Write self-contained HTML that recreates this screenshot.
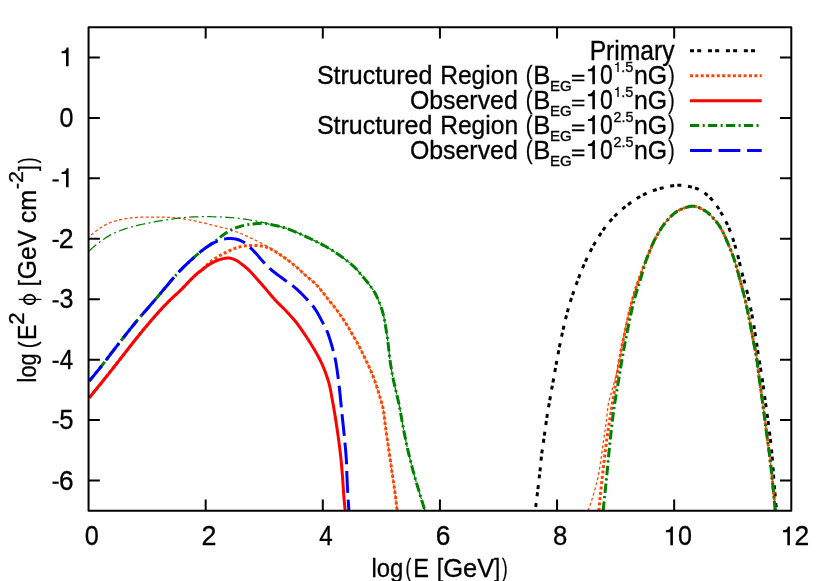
<!DOCTYPE html>
<html><head><meta charset="utf-8"><title>plot</title>
<style>
html,body{margin:0;padding:0;background:#fff;}
svg{display:block;will-change:transform;}
text{font-family:"Liberation Sans",sans-serif;fill:#000;stroke:#000;stroke-width:0.3px;}
</style></head><body>

<svg width="830" height="581" viewBox="0 0 830 581">
<rect x="0" y="0" width="830" height="581" fill="#ffffff"/>
<defs><clipPath id="c"><rect x="88.55" y="27.20" width="702.75" height="483.60"/></clipPath></defs>
<g clip-path="url(#c)">
<path d="M535.20,510.80 L535.46,508.81 L535.72,506.81 L535.97,504.82 L536.22,502.82 L536.47,500.83 L536.72,498.83 L536.97,496.84 L537.21,494.84 L537.45,492.85 L537.69,490.85 L537.93,488.86 L538.17,486.86 L538.40,484.86 L538.63,482.87 L538.86,480.87 L539.09,478.87 L539.32,476.88 L539.54,474.88 L539.77,472.88 L539.99,470.88 L540.20,468.88 L540.41,466.88 L540.61,464.88 L540.80,462.88 L541.00,460.88 L541.19,458.88 L541.40,456.88 L541.62,454.88 L541.85,452.89 L542.11,450.89 L542.38,448.90 L542.67,446.91 L542.97,444.92 L543.27,442.94 L543.56,440.95 L543.85,438.96 L544.13,436.97 L544.40,434.97 L544.68,432.98 L544.95,430.99 L545.23,429.00 L545.50,427.01 L545.78,425.02 L546.06,423.03 L546.35,421.04 L546.64,419.05 L546.94,417.06 L547.24,415.07 L547.56,413.09 L547.88,411.10 L548.21,409.12 L548.54,407.14 L548.89,405.16 L549.23,403.18 L549.58,401.20 L549.94,399.22 L550.29,397.24 L550.65,395.26 L551.00,393.28 L551.35,391.30 L551.70,389.32 L552.05,387.34 L552.40,385.36 L552.75,383.38 L553.10,381.41 L553.45,379.43 L553.81,377.45 L554.16,375.47 L554.52,373.49 L554.88,371.51 L555.24,369.53 L555.60,367.56 L555.96,365.58 L556.31,363.60 L556.67,361.62 L557.03,359.64 L557.40,357.66 L557.76,355.69 L558.13,353.71 L558.50,351.74 L558.88,349.76 L559.27,347.79 L559.66,345.82 L560.06,343.85 L560.46,341.88 L560.87,339.91 L561.29,337.95 L561.71,335.98 L562.13,334.01 L562.56,332.05 L562.99,330.08 L563.43,328.11 L563.88,326.15 L564.33,324.19 L564.79,322.23 L565.26,320.28 L565.74,318.32 L566.22,316.37 L566.72,314.43 L567.23,312.48 L567.75,310.55 L568.28,308.61 L568.83,306.68 L569.39,304.76 L569.98,302.84 L570.58,300.92 L571.19,299.00 L571.82,297.09 L572.46,295.18 L573.11,293.28 L573.77,291.38 L574.44,289.48 L575.11,287.58 L575.79,285.69 L576.48,283.80 L577.17,281.91 L577.86,280.02 L578.56,278.14 L579.28,276.26 L580.00,274.38 L580.74,272.51 L581.49,270.64 L582.26,268.78 L583.04,266.93 L583.84,265.09 L584.65,263.26 L585.48,261.42 L586.32,259.59 L587.17,257.77 L588.04,255.94 L588.92,254.13 L589.82,252.33 L590.74,250.53 L591.67,248.75 L592.62,246.98 L593.59,245.23 L594.59,243.49 L595.60,241.77 L596.63,240.05 L597.69,238.33 L598.76,236.61 L599.86,234.91 L600.97,233.22 L602.11,231.54 L603.27,229.88 L604.45,228.24 L605.65,226.62 L606.88,225.03 L608.12,223.47 L609.39,221.93 L610.68,220.43 L612.02,218.95 L613.39,217.49 L614.80,216.05 L616.24,214.62 L617.72,213.23 L619.21,211.86 L620.73,210.52 L622.27,209.21 L623.82,207.93 L625.38,206.69 L626.96,205.47 L628.56,204.25 L630.18,203.04 L631.83,201.85 L633.49,200.68 L635.18,199.54 L636.88,198.44 L638.61,197.38 L640.35,196.37 L642.11,195.42 L643.88,194.53 L645.67,193.70 L647.50,192.91 L649.35,192.13 L651.24,191.39 L653.14,190.69 L655.06,190.03 L656.99,189.41 L658.93,188.84 L660.87,188.32 L662.81,187.86 L664.76,187.40 L666.74,186.93 L668.72,186.48 L670.71,186.07 L672.70,185.72 L674.70,185.44 L676.69,185.26 L678.67,185.20 L680.67,185.26 L682.70,185.43 L684.73,185.69 L686.77,186.03 L688.79,186.43 L690.79,186.90 L692.74,187.41 L694.65,187.95 L696.49,188.50 L698.28,189.14 L700.05,189.99 L701.80,191.01 L703.51,192.17 L705.17,193.43 L706.79,194.77 L708.34,196.15 L709.81,197.54 L711.21,198.91 L712.54,200.34 L713.83,201.86 L715.07,203.45 L716.27,205.10 L717.43,206.79 L718.55,208.51 L719.63,210.23 L720.67,211.95 L721.69,213.67 L722.68,215.41 L723.65,217.17 L724.60,218.95 L725.52,220.75 L726.42,222.56 L727.28,224.39 L728.12,226.23 L728.93,228.08 L729.70,229.93 L730.43,231.79 L731.14,233.66 L731.82,235.54 L732.47,237.44 L733.10,239.35 L733.72,241.27 L734.31,243.19 L734.89,245.12 L735.46,247.06 L736.01,249.00 L736.56,250.94 L737.09,252.87 L737.62,254.81 L738.12,256.76 L738.60,258.71 L739.07,260.66 L739.53,262.62 L739.99,264.58 L740.45,266.54 L740.92,268.49 L741.39,270.45 L741.87,272.40 L742.38,274.35 L742.89,276.29 L743.42,278.23 L743.96,280.17 L744.51,282.10 L745.05,284.04 L745.59,285.98 L746.12,287.92 L746.63,289.86 L747.13,291.81 L747.60,293.76 L748.06,295.72 L748.49,297.68 L748.92,299.64 L749.34,301.60 L749.75,303.57 L750.15,305.55 L750.54,307.52 L750.92,309.49 L751.30,311.47 L751.67,313.44 L752.04,315.42 L752.40,317.40 L752.75,319.38 L753.10,321.36 L753.44,323.34 L753.77,325.32 L754.10,327.30 L754.43,329.29 L754.75,331.27 L755.07,333.26 L755.38,335.24 L755.69,337.23 L756.00,339.22 L756.30,341.20 L756.60,343.19 L756.89,345.18 L757.18,347.17 L757.47,349.16 L757.77,351.15 L758.08,353.13 L758.39,355.12 L758.70,357.10 L759.03,359.09 L759.35,361.07 L759.67,363.06 L760.00,365.04 L760.33,367.02 L760.65,369.01 L760.97,370.99 L761.29,372.98 L761.60,374.96 L761.91,376.95 L762.21,378.94 L762.50,380.93 L762.78,382.92 L763.07,384.91 L763.35,386.90 L763.62,388.89 L763.89,390.88 L764.16,392.87 L764.43,394.86 L764.70,396.86 L764.97,398.85 L765.24,400.84 L765.52,402.83 L765.79,404.82 L766.07,406.82 L766.35,408.81 L766.63,410.80 L766.91,412.79 L767.19,414.78 L767.46,416.77 L767.73,418.76 L767.99,420.75 L768.25,422.75 L768.52,424.74 L768.78,426.74 L769.04,428.73 L769.30,430.72 L769.55,432.72 L769.80,434.71 L770.05,436.71 L770.29,438.70 L770.53,440.70 L770.76,442.70 L770.98,444.70 L771.19,446.69 L771.39,448.69 L771.58,450.69 L771.77,452.69 L771.94,454.70 L772.11,456.70 L772.28,458.70 L772.44,460.70 L772.60,462.71 L772.75,464.71 L772.91,466.72 L773.06,468.72 L773.21,470.73 L773.36,472.73 L773.51,474.74 L773.66,476.74 L773.81,478.75 L773.97,480.75 L774.13,482.76 L774.29,484.76 L774.45,486.76 L774.62,488.77 L774.79,490.77 L774.96,492.77 L775.13,494.78 L775.30,496.78 L775.47,498.78 L775.64,500.79 L775.81,502.79 L775.98,504.79 L776.15,506.79 L776.33,508.80 L776.50,510.80" fill="none" stroke="#000000" stroke-width="3" stroke-linejoin="round" stroke-dasharray="4 3.2 4 6.75" stroke-dashoffset="3.3"/>
<path d="M89.20,236.90 L90.67,235.50 L92.18,234.14 L93.71,232.83 L95.28,231.58 L96.89,230.38 L98.53,229.22 L100.20,228.07 L101.90,226.95 L103.63,225.87 L105.39,224.86 L107.18,223.95 L109.00,223.14 L110.85,222.42 L112.74,221.75 L114.68,221.13 L116.63,220.56 L118.60,220.05 L120.56,219.61 L122.53,219.22 L124.51,218.86 L126.50,218.53 L128.50,218.23 L130.51,217.97 L132.51,217.76 L134.52,217.59 L136.53,217.42 L138.54,217.27 L140.55,217.14 L142.57,217.05 L144.58,217.00 L146.60,217.00 L148.61,217.00 L150.63,217.00 L152.64,217.00 L154.66,217.00 L156.67,217.00 L158.69,217.01 L160.70,217.04 L162.72,217.11 L164.73,217.19 L166.75,217.28 L168.76,217.37 L170.77,217.48 L172.78,217.61 L174.80,217.78 L176.80,217.96 L178.81,218.17 L180.81,218.40 L182.80,218.68 L184.79,219.01 L186.77,219.37 L188.75,219.76 L190.73,220.15 L192.71,220.54 L194.68,220.95 L196.65,221.38 L198.62,221.82 L200.58,222.27 L202.55,222.73 L204.51,223.20 L206.46,223.67 L208.42,224.16 L210.37,224.65 L212.33,225.15 L214.28,225.64 L216.24,226.13 L218.20,226.61 L220.16,227.07 L222.13,227.53 L224.09,228.01 L226.04,228.50 L227.98,229.04 L229.90,229.61 L231.82,230.23 L233.73,230.88 L235.63,231.56 L237.52,232.27 L239.41,232.99 L241.28,233.73 L243.13,234.50 L244.98,235.31 L246.82,236.13 L248.66,236.98 L250.48,237.84 L252.30,238.70 L254.12,239.57 L255.93,240.46 L257.74,241.36 L259.53,242.27 L261.32,243.20 L263.10,244.15 L264.87,245.11 L266.63,246.09 L268.38,247.09 L270.13,248.10 L271.86,249.14 L273.58,250.19 L275.28,251.27 L276.96,252.37 L278.61,253.53 L280.24,254.71 L281.87,255.91 L283.50,257.09 L285.14,258.27 L286.78,259.45 L288.41,260.63 L290.03,261.83 L291.64,263.05 L293.22,264.29 L294.78,265.56 L296.31,266.87 L297.82,268.20 L299.31,269.56 L300.79,270.93 L302.27,272.30 L303.75,273.67 L305.24,275.03 L306.75,276.37 L308.28,277.68 L309.83,278.98 L311.38,280.28 L312.91,281.60 L314.40,282.95 L315.84,284.34 L317.23,285.79 L318.57,287.29 L319.89,288.82 L321.18,290.38 L322.46,291.93 L323.73,293.50 L324.97,295.09 L326.19,296.69 L327.41,298.30 L328.64,299.89 L329.90,301.47 L331.18,303.03 L332.46,304.58 L333.74,306.14 L334.99,307.72 L336.20,309.33 L337.40,310.95 L338.59,312.58 L339.76,314.22 L340.91,315.88 L342.05,317.54 L343.17,319.21 L344.28,320.89 L345.37,322.59 L346.44,324.30 L347.50,326.01 L348.54,327.74 L349.56,329.47 L350.57,331.22 L351.56,332.98 L352.55,334.73 L353.55,336.48 L354.57,338.22 L355.59,339.96 L356.61,341.70 L357.59,343.46 L358.53,345.24 L359.46,347.03 L360.38,348.82 L361.28,350.63 L362.16,352.44 L363.04,354.25 L363.92,356.07 L364.79,357.89 L365.66,359.70 L366.54,361.52 L367.41,363.34 L368.27,365.17 L369.12,367.00 L369.95,368.83 L370.76,370.68 L371.54,372.53 L372.30,374.39 L373.03,376.27 L373.74,378.15 L374.44,380.05 L375.11,381.95 L375.77,383.86 L376.42,385.76 L377.05,387.68 L377.67,389.60 L378.27,391.52 L378.85,393.45 L379.43,395.38 L380.00,397.32 L380.56,399.25 L381.15,401.18 L381.74,403.12 L382.29,405.06 L382.78,407.01 L383.16,408.98 L383.49,410.96 L383.78,412.95 L384.05,414.94 L384.29,416.95 L384.53,418.95 L384.76,420.96 L385.00,422.97 L385.25,424.97 L385.52,426.97 L385.80,428.96 L386.08,430.96 L386.36,432.96 L386.64,434.95 L386.93,436.95 L387.21,438.94 L387.50,440.94 L387.79,442.93 L388.08,444.92 L388.37,446.92 L388.67,448.91 L388.97,450.91 L389.26,452.90 L389.56,454.89 L389.85,456.89 L390.14,458.88 L390.42,460.88 L390.70,462.87 L390.98,464.87 L391.26,466.86 L391.54,468.86 L391.82,470.86 L392.12,472.85 L392.41,474.84 L392.71,476.84 L393.01,478.83 L393.31,480.82 L393.61,482.82 L393.90,484.81 L394.19,486.80 L394.46,488.80 L394.73,490.80 L395.00,492.80 L395.26,494.79 L395.52,496.79 L395.77,498.79 L396.02,500.79 L396.26,502.79 L396.50,504.79 L396.74,506.79 L396.97,508.80 L397.20,510.80" fill="none" stroke="#ff4500" stroke-width="1.25" stroke-linejoin="round" stroke-dasharray="3 2.36" stroke-dashoffset="2.7"/>
<path d="M588.00,510.80 L588.70,508.91 L589.39,507.02 L590.07,505.12 L590.72,503.22 L591.36,501.32 L591.99,499.41 L592.59,497.49 L593.18,495.57 L593.75,493.65 L594.30,491.72 L594.83,489.79 L595.35,487.85 L595.86,485.91 L596.36,483.96 L596.84,482.01 L597.30,480.05 L597.75,478.09 L598.17,476.12 L598.57,474.16 L598.95,472.19 L599.31,470.21 L599.64,468.23 L599.95,466.24 L600.26,464.26 L600.56,462.27 L600.86,460.28 L601.14,458.29 L601.42,456.31 L601.69,454.31 L601.96,452.32 L602.22,450.33 L602.49,448.34 L602.75,446.35 L603.03,444.36 L603.30,442.37 L603.59,440.38 L603.89,438.39 L604.19,436.41 L604.49,434.42 L604.78,432.43 L605.06,430.45 L605.34,428.46 L605.61,426.47 L605.88,424.47 L606.14,422.48 L606.40,420.49 L606.65,418.50 L606.89,416.50 L607.10,414.50 L607.30,412.50 L607.51,410.50 L607.73,408.50 L607.99,406.51 L608.29,404.54 L608.69,402.57 L609.15,400.62 L609.67,398.68 L610.21,396.73 L610.75,394.79 L611.27,392.85 L611.80,390.91 L612.34,388.98 L612.89,387.05 L613.44,385.11 L613.98,383.18 L614.50,381.24 L615.02,379.30 L615.52,377.35 L616.02,375.41 L616.51,373.46 L616.99,371.51 L617.45,369.55 L617.89,367.59 L618.33,365.63 L618.75,363.67 L619.16,361.70 L619.56,359.73 L619.94,357.76 L620.32,355.79 L620.68,353.81 L621.02,351.83 L621.35,349.85 L621.68,347.87 L622.02,345.89 L622.37,343.91 L622.74,341.94 L623.11,339.96 L623.48,337.99 L623.86,336.01 L624.25,334.04 L624.64,332.07 L625.04,330.10 L625.45,328.14 L625.86,326.17 L626.28,324.21 L626.71,322.24 L627.14,320.28 L627.57,318.32 L628.01,316.35 L628.46,314.39 L628.92,312.44 L629.39,310.48 L629.87,308.53 L630.36,306.59 L630.87,304.65 L631.39,302.71 L631.92,300.78 L632.48,298.85 L633.04,296.92 L633.63,295.00 L634.22,293.08 L634.83,291.16 L635.45,289.25 L636.08,287.34 L636.71,285.43 L637.36,283.52 L638.01,281.62 L638.67,279.72 L639.33,277.83 L640.00,275.94 L640.68,274.05 L641.38,272.16 L642.09,270.28 L642.81,268.41 L643.54,266.54 L644.28,264.67 L645.03,262.80 L645.78,260.94 L646.54,259.08 L647.30,257.22 L648.06,255.35 L648.81,253.48 L649.56,251.60 L650.32,249.73 L651.09,247.87 L651.87,246.01 L652.68,244.16 L653.50,242.33 L654.35,240.52 L655.23,238.73 L656.15,236.96 L657.10,235.22 L658.09,233.47 L659.12,231.72 L660.18,229.98 L661.28,228.27 L662.42,226.57 L663.59,224.92 L664.80,223.31 L666.05,221.74 L667.33,220.24 L668.65,218.79 L670.05,217.32 L671.51,215.86 L673.03,214.44 L674.61,213.09 L676.23,211.87 L677.90,210.81 L679.61,209.95 L681.40,209.18 L683.28,208.41 L685.24,207.70 L687.23,207.08 L689.23,206.60 L691.22,206.29 L693.15,206.20 L695.09,206.42 L697.04,206.93 L698.99,207.66 L700.90,208.54 L702.74,209.49 L704.47,210.43 L706.11,211.44 L707.70,212.63 L709.22,213.98 L710.70,215.42 L712.12,216.91 L713.50,218.42 L714.83,219.91 L716.12,221.45 L717.37,223.04 L718.55,224.68 L719.66,226.35 L720.69,228.05 L721.66,229.79 L722.60,231.57 L723.50,233.37 L724.36,235.20 L725.20,237.04 L726.02,238.88 L726.82,240.73 L727.62,242.58 L728.40,244.42 L729.18,246.27 L729.94,248.13 L730.69,250.00 L731.43,251.87 L732.15,253.76 L732.85,255.64 L733.53,257.53 L734.19,259.43 L734.82,261.33 L735.43,263.24 L736.02,265.16 L736.58,267.09 L737.12,269.02 L737.65,270.96 L738.16,272.90 L738.67,274.85 L739.18,276.80 L739.69,278.74 L740.21,280.68 L740.73,282.62 L741.25,284.56 L741.77,286.50 L742.29,288.45 L742.80,290.39 L743.29,292.33 L743.78,294.28 L744.26,296.23 L744.72,298.19 L745.18,300.14 L745.63,302.10 L746.07,304.06 L746.51,306.02 L746.94,307.98 L747.37,309.95 L747.79,311.91 L748.21,313.88 L748.62,315.84 L749.02,317.81 L749.42,319.78 L749.80,321.75 L750.18,323.72 L750.55,325.70 L750.91,327.67 L751.27,329.65 L751.63,331.63 L751.98,333.61 L752.34,335.58 L752.70,337.56 L753.07,339.53 L753.45,341.51 L753.84,343.48 L754.25,345.44 L754.68,347.41 L755.09,349.38 L755.49,351.35 L755.84,353.32 L756.16,355.30 L756.46,357.28 L756.75,359.27 L757.03,361.26 L757.29,363.25 L757.55,365.24 L757.80,367.24 L758.06,369.23 L758.30,371.23 L758.56,373.22 L758.81,375.22 L759.07,377.21 L759.34,379.20 L759.61,381.19 L759.89,383.18 L760.17,385.17 L760.44,387.16 L760.72,389.15 L761.00,391.14 L761.28,393.13 L761.56,395.12 L761.83,397.11 L762.11,399.10 L762.38,401.09 L762.65,403.08 L762.92,405.07 L763.19,407.06 L763.45,409.05 L763.72,411.04 L763.98,413.03 L764.24,415.02 L764.50,417.02 L764.76,419.01 L765.02,421.00 L765.27,422.99 L765.53,424.98 L765.79,426.98 L766.05,428.97 L766.31,430.96 L766.57,432.95 L766.84,434.94 L767.11,436.93 L767.38,438.93 L767.65,440.92 L767.92,442.91 L768.19,444.90 L768.46,446.89 L768.73,448.88 L768.99,450.87 L769.25,452.86 L769.50,454.85 L769.75,456.85 L769.99,458.84 L770.23,460.84 L770.46,462.83 L770.68,464.83 L770.90,466.83 L771.11,468.82 L771.33,470.82 L771.54,472.82 L771.75,474.82 L771.95,476.81 L772.16,478.81 L772.37,480.81 L772.57,482.81 L772.78,484.81 L772.98,486.81 L773.18,488.80 L773.38,490.80 L773.58,492.80 L773.78,494.80 L773.97,496.80 L774.17,498.80 L774.36,500.80 L774.55,502.80 L774.74,504.80 L774.93,506.80 L775.12,508.80 L775.30,510.80" fill="none" stroke="#ff4500" stroke-width="1.25" stroke-linejoin="round" stroke-dasharray="3 2.36"/>
<path d="M89.20,397.80 L90.48,396.25 L91.75,394.70 L93.03,393.14 L94.30,391.59 L95.57,390.03 L96.84,388.47 L98.10,386.91 L99.37,385.35 L100.63,383.79 L101.89,382.22 L103.15,380.66 L104.41,379.09 L105.66,377.52 L106.91,375.95 L108.16,374.38 L109.41,372.80 L110.66,371.23 L111.90,369.65 L113.15,368.07 L114.39,366.49 L115.63,364.91 L116.87,363.33 L118.11,361.75 L119.35,360.17 L120.59,358.59 L121.83,357.00 L123.06,355.42 L124.29,353.83 L125.52,352.24 L126.75,350.65 L127.98,349.06 L129.21,347.48 L130.45,345.89 L131.69,344.31 L132.93,342.74 L134.18,341.16 L135.44,339.59 L136.69,338.02 L137.95,336.46 L139.21,334.89 L140.48,333.33 L141.75,331.77 L143.02,330.22 L144.30,328.67 L145.59,327.13 L146.88,325.59 L148.18,324.06 L149.48,322.53 L150.79,321.00 L152.11,319.48 L153.43,317.97 L154.75,316.46 L156.09,314.96 L157.43,313.46 L158.77,311.97 L160.12,310.48 L161.48,309.00 L162.84,307.52 L164.22,306.05 L165.60,304.59 L166.99,303.14 L168.40,301.71 L169.81,300.29 L171.26,298.89 L172.72,297.52 L174.19,296.15 L175.68,294.79 L177.16,293.43 L178.63,292.07 L180.09,290.69 L181.53,289.28 L182.95,287.86 L184.35,286.42 L185.75,284.97 L187.14,283.52 L188.53,282.06 L189.92,280.61 L191.32,279.17 L192.74,277.75 L194.17,276.34 L195.63,274.97 L197.12,273.63 L198.64,272.32 L200.18,271.03 L201.73,269.74 L203.26,268.44 L204.76,267.10 L206.23,265.72 L207.68,264.32 L209.17,262.98 L210.72,261.72 L212.34,260.53 L214.00,259.39 L215.68,258.28 L217.35,257.17 L219.04,256.07 L220.75,255.02 L222.50,254.04 L224.30,253.16 L226.14,252.33 L227.97,251.51 L229.79,250.63 L231.59,249.73 L233.42,248.90 L235.29,248.21 L237.21,247.59 L239.15,247.05 L241.10,246.60 L243.08,246.17 L245.06,245.83 L247.05,245.64 L249.06,245.51 L251.07,245.42 L253.08,245.41 L255.09,245.48 L257.09,245.61 L259.09,245.77 L261.10,246.02 L263.08,246.35 L265.03,246.78 L266.94,247.40 L268.82,248.17 L270.64,248.99 L272.42,249.90 L274.16,250.88 L275.89,251.93 L277.59,253.03 L279.27,254.15 L280.94,255.29 L282.60,256.41 L284.26,257.54 L285.90,258.71 L287.53,259.89 L289.14,261.10 L290.74,262.32 L292.32,263.56 L293.88,264.82 L295.42,266.10 L296.93,267.42 L298.43,268.76 L299.91,270.11 L301.39,271.48 L302.86,272.85 L304.34,274.21 L305.83,275.56 L307.35,276.89 L308.88,278.19 L310.43,279.48 L311.97,280.78 L313.48,282.11 L314.95,283.46 L316.36,284.88 L317.73,286.34 L319.06,287.85 L320.36,289.39 L321.65,290.94 L322.92,292.49 L324.17,294.06 L325.40,295.65 L326.62,297.25 L327.84,298.85 L329.07,300.44 L330.33,302.00 L331.61,303.55 L332.89,305.10 L334.16,306.66 L335.39,308.25 L336.60,309.85 L337.79,311.47 L338.96,313.10 L340.12,314.74 L341.27,316.40 L342.40,318.06 L343.51,319.73 L344.61,321.41 L345.69,323.10 L346.76,324.81 L347.81,326.52 L348.84,328.24 L349.85,329.98 L350.85,331.72 L351.84,333.47 L352.83,335.22 L353.83,336.97 L354.85,338.70 L355.87,340.43 L356.87,342.17 L357.84,343.93 L358.78,345.70 L359.70,347.49 L360.61,349.28 L361.50,351.08 L362.38,352.89 L363.26,354.70 L364.13,356.51 L365.00,358.32 L365.87,360.13 L366.74,361.95 L367.60,363.76 L368.46,365.58 L369.30,367.41 L370.13,369.24 L370.93,371.08 L371.71,372.93 L372.46,374.79 L373.18,376.66 L373.89,378.54 L374.58,380.43 L375.25,382.33 L375.90,384.23 L376.54,386.13 L377.17,388.04 L377.78,389.95 L378.38,391.87 L378.96,393.80 L379.53,395.72 L380.10,397.65 L380.66,399.58 L381.25,401.51 L381.83,403.44 L382.38,405.38 L382.84,407.32 L383.21,409.29 L383.53,411.26 L383.82,413.25 L384.08,415.24 L384.33,417.24 L384.56,419.24 L384.79,421.24 L385.03,423.24 L385.28,425.23 L385.56,427.23 L385.83,429.22 L386.11,431.20 L386.39,433.19 L386.68,435.18 L386.96,437.17 L387.25,439.16 L387.53,441.15 L387.82,443.14 L388.11,445.13 L388.40,447.11 L388.70,449.10 L388.99,451.09 L389.29,453.08 L389.58,455.06 L389.87,457.05 L390.16,459.04 L390.45,461.03 L390.72,463.02 L391.00,465.01 L391.28,467.00 L391.56,468.99 L391.84,470.98 L392.13,472.97 L392.43,474.95 L392.73,476.94 L393.03,478.93 L393.33,480.91 L393.62,482.90 L393.91,484.89 L394.20,486.88 L394.47,488.87 L394.74,490.86 L395.01,492.85 L395.26,494.84 L395.52,496.84 L395.77,498.83 L396.02,500.82 L396.27,502.82 L396.51,504.81 L396.74,506.81 L396.97,508.80 L397.20,510.80" fill="none" stroke="#ff4500" stroke-width="3" stroke-linejoin="round" stroke-dasharray="3 2.36"/>
<path d="M598.80,510.80 L598.99,508.80 L599.19,506.80 L599.39,504.80 L599.58,502.80 L599.78,500.81 L599.99,498.81 L600.19,496.81 L600.40,494.81 L600.60,492.81 L600.81,490.82 L601.02,488.82 L601.23,486.82 L601.45,484.83 L601.66,482.83 L601.88,480.83 L602.10,478.84 L602.32,476.84 L602.54,474.84 L602.76,472.85 L602.98,470.85 L603.21,468.86 L603.43,466.86 L603.66,464.86 L603.88,462.87 L604.11,460.87 L604.34,458.88 L604.58,456.88 L604.82,454.89 L605.06,452.89 L605.30,450.90 L605.55,448.91 L605.80,446.91 L606.05,444.92 L606.31,442.93 L606.57,440.94 L606.84,438.95 L607.12,436.96 L607.40,434.98 L607.70,432.99 L607.99,431.00 L608.30,429.02 L608.60,427.03 L608.91,425.05 L609.23,423.07 L609.54,421.08 L609.86,419.10 L610.18,417.12 L610.50,415.13 L610.82,413.15 L611.14,411.17 L611.46,409.18 L611.77,407.20 L612.09,405.22 L612.41,403.23 L612.73,401.25 L613.05,399.27 L613.37,397.29 L613.69,395.30 L614.02,393.32 L614.34,391.34 L614.67,389.36 L614.99,387.38 L615.32,385.39 L615.64,383.41 L615.97,381.43 L616.29,379.45 L616.61,377.47 L616.93,375.48 L617.24,373.50 L617.55,371.51 L617.87,369.53 L618.18,367.55 L618.50,365.56 L618.81,363.58 L619.14,361.60 L619.46,359.62 L619.80,357.64 L620.13,355.66 L620.48,353.68 L620.83,351.70 L621.20,349.73 L621.57,347.75 L621.96,345.78 L622.35,343.81 L622.76,341.85 L623.18,339.88 L623.60,337.92 L624.04,335.96 L624.48,334.00 L624.93,332.04 L625.38,330.08 L625.82,328.13 L626.26,326.17 L626.70,324.21 L627.12,322.24 L627.55,320.28 L627.97,318.31 L628.39,316.34 L628.81,314.38 L629.24,312.42 L629.68,310.46 L630.14,308.50 L630.60,306.55 L631.09,304.60 L631.59,302.67 L632.12,300.73 L632.66,298.80 L633.22,296.87 L633.80,294.95 L634.39,293.03 L634.99,291.11 L635.60,289.19 L636.23,287.28 L636.86,285.37 L637.50,283.47 L638.15,281.56 L638.80,279.66 L639.46,277.77 L640.12,275.87 L640.79,273.98 L641.48,272.09 L642.18,270.21 L642.89,268.33 L643.61,266.46 L644.34,264.58 L645.08,262.72 L645.83,260.85 L646.58,258.99 L647.34,257.13 L648.09,255.26 L648.84,253.39 L649.59,251.51 L650.35,249.64 L651.12,247.77 L651.91,245.92 L652.71,244.07 L653.54,242.24 L654.39,240.43 L655.28,238.65 L656.19,236.88 L657.15,235.14 L658.14,233.39 L659.17,231.64 L660.23,229.90 L661.33,228.19 L662.47,226.50 L663.65,224.85 L664.86,223.24 L666.10,221.68 L667.39,220.18 L668.71,218.73 L670.11,217.26 L671.57,215.80 L673.10,214.38 L674.67,213.04 L676.30,211.83 L677.97,210.77 L679.68,209.92 L681.48,209.14 L683.36,208.38 L685.32,207.67 L687.31,207.06 L689.31,206.58 L691.29,206.28 L693.23,206.21 L695.16,206.44 L697.12,206.96 L699.07,207.70 L700.97,208.58 L702.81,209.52 L704.54,210.47 L706.18,211.48 L707.76,212.68 L709.28,214.03 L710.75,215.47 L712.18,216.97 L713.55,218.48 L714.88,219.96 L716.17,221.50 L717.41,223.10 L718.60,224.74 L719.70,226.42 L720.72,228.12 L721.70,229.86 L722.63,231.63 L723.53,233.44 L724.39,235.26 L725.23,237.10 L726.05,238.95 L726.85,240.80 L727.65,242.64 L728.43,244.48 L729.21,246.33 L729.97,248.19 L730.72,250.06 L731.45,251.94 L732.17,253.82 L732.87,255.70 L733.55,257.59 L734.21,259.49 L734.84,261.39 L735.45,263.30 L736.04,265.22 L736.60,267.14 L737.14,269.08 L737.66,271.02 L738.18,272.96 L738.69,274.91 L739.19,276.85 L739.71,278.80 L740.22,280.74 L740.75,282.68 L741.27,284.62 L741.79,286.56 L742.30,288.50 L742.81,290.44 L743.31,292.39 L743.80,294.34 L744.27,296.29 L744.73,298.24 L745.19,300.19 L745.64,302.15 L746.09,304.11 L746.52,306.07 L746.96,308.03 L747.38,310.00 L747.80,311.96 L748.22,313.93 L748.63,315.89 L749.03,317.86 L749.43,319.83 L749.81,321.80 L750.19,323.77 L750.56,325.74 L750.92,327.72 L751.28,329.70 L751.63,331.67 L751.99,333.65 L752.35,335.63 L752.71,337.60 L753.08,339.58 L753.45,341.55 L753.84,343.52 L754.26,345.49 L754.68,347.45 L755.10,349.42 L755.49,351.38 L755.84,353.36 L756.16,355.34 L756.47,357.32 L756.75,359.31 L757.03,361.30 L757.30,363.29 L757.56,365.28 L757.81,367.27 L758.06,369.27 L758.31,371.26 L758.56,373.26 L758.82,375.25 L759.08,377.24 L759.35,379.23 L759.62,381.22 L759.89,383.21 L760.17,385.20 L760.45,387.19 L760.73,389.18 L761.01,391.17 L761.28,393.16 L761.56,395.14 L761.84,397.13 L762.11,399.12 L762.39,401.11 L762.66,403.10 L762.93,405.09 L763.19,407.08 L763.46,409.07 L763.72,411.07 L763.98,413.06 L764.24,415.05 L764.50,417.04 L764.76,419.03 L765.02,421.02 L765.28,423.01 L765.54,425.01 L765.79,427.00 L766.05,428.99 L766.31,430.98 L766.58,432.97 L766.84,434.96 L767.11,436.95 L767.38,438.94 L767.65,440.93 L767.92,442.92 L768.19,444.91 L768.46,446.90 L768.73,448.89 L768.99,450.89 L769.25,452.88 L769.51,454.87 L769.75,456.86 L769.99,458.85 L770.23,460.85 L770.46,462.84 L770.68,464.84 L770.90,466.84 L771.12,468.83 L771.33,470.83 L771.54,472.83 L771.75,474.83 L771.95,476.82 L772.16,478.82 L772.37,480.82 L772.57,482.82 L772.78,484.81 L772.98,486.81 L773.18,488.81 L773.38,490.81 L773.58,492.81 L773.78,494.81 L773.97,496.80 L774.17,498.80 L774.36,500.80 L774.55,502.80 L774.74,504.80 L774.93,506.80 L775.12,508.80 L775.30,510.80" fill="none" stroke="#ff4500" stroke-width="3" stroke-linejoin="round" stroke-dasharray="3 2.36"/>
<path d="M89.20,397.80 L90.48,396.25 L91.76,394.69 L93.03,393.13 L94.31,391.57 L95.58,390.01 L96.85,388.45 L98.12,386.89 L99.39,385.33 L100.65,383.76 L101.92,382.19 L103.18,380.62 L104.44,379.05 L105.70,377.48 L106.95,375.90 L108.20,374.33 L109.45,372.75 L110.70,371.17 L111.95,369.59 L113.20,368.01 L114.44,366.43 L115.69,364.84 L116.93,363.26 L118.17,361.68 L119.41,360.09 L120.66,358.51 L121.89,356.92 L123.13,355.33 L124.36,353.74 L125.59,352.14 L126.82,350.55 L128.06,348.96 L129.29,347.37 L130.53,345.78 L131.78,344.20 L133.02,342.62 L134.28,341.05 L135.53,339.47 L136.79,337.90 L138.05,336.33 L139.32,334.76 L140.58,333.20 L141.86,331.64 L143.14,330.08 L144.42,328.53 L145.71,326.99 L147.01,325.45 L148.31,323.91 L149.61,322.38 L150.93,320.85 L152.24,319.33 L153.57,317.81 L154.90,316.30 L156.23,314.79 L157.58,313.29 L158.93,311.80 L160.28,310.31 L161.64,308.82 L163.01,307.34 L164.39,305.87 L165.77,304.41 L167.17,302.96 L168.58,301.53 L170.00,300.11 L171.45,298.71 L172.92,297.33 L174.40,295.96 L175.88,294.60 L177.37,293.24 L178.84,291.87 L180.30,290.48 L181.74,289.07 L183.15,287.64 L184.55,286.18 L185.94,284.71 L187.32,283.24 L188.71,281.77 L190.10,280.32 L191.51,278.88 L192.93,277.46 L194.39,276.08 L195.88,274.74 L197.41,273.45 L198.98,272.19 L200.57,270.95 L202.18,269.73 L203.80,268.53 L205.41,267.31 L207.02,266.09 L208.66,264.92 L210.35,263.85 L212.11,262.87 L213.92,261.97 L215.76,261.14 L217.62,260.38 L219.52,259.66 L221.44,259.07 L223.40,258.65 L225.40,258.28 L227.41,258.04 L229.39,258.05 L231.37,258.43 L233.33,259.09 L235.22,259.85 L236.98,260.70 L238.65,261.82 L240.27,263.08 L241.89,264.31 L243.50,265.52 L245.09,266.76 L246.64,268.04 L248.12,269.40 L249.57,270.80 L250.98,272.24 L252.36,273.70 L253.71,275.20 L255.02,276.72 L256.33,278.26 L257.66,279.78 L258.99,281.29 L260.32,282.80 L261.65,284.31 L262.97,285.83 L264.30,287.34 L265.63,288.85 L266.95,290.37 L268.26,291.90 L269.54,293.45 L270.82,295.02 L272.09,296.57 L273.40,298.11 L274.74,299.60 L276.12,301.06 L277.53,302.49 L278.97,303.91 L280.41,305.32 L281.86,306.72 L283.29,308.13 L284.72,309.56 L286.11,311.01 L287.49,312.48 L288.88,313.94 L290.25,315.42 L291.61,316.91 L292.95,318.41 L294.27,319.94 L295.55,321.48 L296.78,323.06 L297.99,324.68 L299.16,326.31 L300.32,327.97 L301.46,329.63 L302.60,331.29 L303.74,332.95 L304.87,334.61 L305.99,336.29 L307.10,337.97 L308.20,339.66 L309.28,341.36 L310.35,343.06 L311.41,344.77 L312.47,346.48 L313.52,348.20 L314.57,349.93 L315.59,351.67 L316.59,353.42 L317.57,355.18 L318.51,356.95 L319.42,358.74 L320.32,360.54 L321.20,362.36 L322.05,364.19 L322.88,366.03 L323.67,367.88 L324.42,369.75 L325.13,371.62 L325.82,373.51 L326.49,375.41 L327.14,377.32 L327.76,379.25 L328.35,381.18 L328.91,383.12 L329.42,385.06 L329.90,387.01 L330.32,388.97 L330.71,390.95 L331.08,392.93 L331.43,394.91 L331.77,396.90 L332.12,398.89 L332.49,400.87 L332.85,402.85 L333.20,404.83 L333.56,406.81 L333.90,408.79 L334.25,410.78 L334.58,412.76 L334.91,414.75 L335.23,416.74 L335.54,418.73 L335.85,420.72 L336.16,422.71 L336.46,424.70 L336.76,426.69 L337.06,428.68 L337.35,430.67 L337.63,432.67 L337.91,434.66 L338.19,436.65 L338.46,438.65 L338.73,440.64 L338.99,442.64 L339.26,444.64 L339.52,446.63 L339.77,448.63 L340.02,450.63 L340.26,452.63 L340.49,454.63 L340.72,456.63 L340.93,458.63 L341.13,460.63 L341.33,462.64 L341.51,464.64 L341.69,466.65 L341.86,468.65 L342.02,470.66 L342.19,472.67 L342.34,474.67 L342.50,476.68 L342.64,478.69 L342.78,480.70 L342.91,482.71 L343.05,484.72 L343.18,486.73 L343.31,488.74 L343.45,490.74 L343.59,492.75 L343.73,494.76 L343.88,496.77 L344.05,498.77 L344.22,500.78 L344.40,502.79 L344.59,504.79 L344.79,506.79 L344.99,508.80 L345.20,510.80" fill="none" stroke="#ff0000" stroke-width="3" stroke-linejoin="round"/>
<path d="M89.20,250.80 L90.70,249.45 L92.22,248.12 L93.76,246.81 L95.31,245.54 L96.89,244.29 L98.48,243.05 L100.08,241.82 L101.70,240.59 L103.34,239.40 L104.99,238.24 L106.68,237.14 L108.39,236.10 L110.13,235.14 L111.92,234.23 L113.74,233.36 L115.59,232.53 L117.45,231.74 L119.33,230.98 L121.21,230.26 L123.09,229.57 L125.00,228.90 L126.91,228.26 L128.84,227.65 L130.77,227.07 L132.71,226.53 L134.65,226.03 L136.61,225.55 L138.58,225.11 L140.55,224.68 L142.52,224.26 L144.49,223.85 L146.47,223.43 L148.44,223.02 L150.41,222.61 L152.39,222.21 L154.37,221.83 L156.35,221.47 L158.33,221.13 L160.32,220.81 L162.31,220.51 L164.31,220.22 L166.30,219.93 L168.30,219.64 L170.29,219.35 L172.28,219.05 L174.28,218.75 L176.27,218.46 L178.27,218.20 L180.27,217.97 L182.27,217.76 L184.28,217.56 L186.28,217.37 L188.29,217.21 L190.30,217.08 L192.32,216.99 L194.33,216.91 L196.34,216.84 L198.36,216.78 L200.37,216.74 L202.39,216.71 L204.40,216.70 L206.41,216.70 L208.43,216.72 L210.45,216.73 L212.46,216.75 L214.47,216.78 L216.49,216.81 L218.50,216.86 L220.51,216.94 L222.53,217.05 L224.54,217.16 L226.55,217.29 L228.56,217.42 L230.57,217.57 L232.58,217.73 L234.59,217.91 L236.59,218.11 L238.60,218.32 L240.60,218.55 L242.59,218.80 L244.59,219.10 L246.58,219.41 L248.57,219.75 L250.55,220.09 L252.54,220.44 L254.52,220.80 L256.50,221.16 L258.48,221.54 L260.46,221.94 L262.43,222.37 L264.39,222.82 L266.33,223.35 L268.26,223.92 L270.21,224.45 L272.17,224.90 L274.15,225.31 L276.13,225.70 L278.11,226.09 L280.08,226.52 L282.02,227.01 L283.95,227.56 L285.87,228.18 L287.77,228.85 L289.66,229.56 L291.55,230.29 L293.42,231.03 L295.29,231.78 L297.14,232.57 L298.98,233.39 L300.81,234.23 L302.64,235.08 L304.47,235.94 L306.29,236.79 L308.12,237.64 L309.95,238.49 L311.77,239.35 L313.59,240.22 L315.40,241.10 L317.21,241.99 L319.00,242.91 L320.79,243.84 L322.57,244.78 L324.34,245.74 L326.11,246.72 L327.86,247.72 L329.59,248.74 L331.31,249.78 L333.02,250.85 L334.72,251.94 L336.40,253.05 L338.07,254.19 L339.73,255.34 L341.36,256.51 L342.98,257.70 L344.60,258.91 L346.21,260.13 L347.80,261.38 L349.38,262.65 L350.93,263.94 L352.44,265.27 L353.91,266.63 L355.34,268.03 L356.72,269.48 L358.06,270.98 L359.38,272.51 L360.68,274.06 L361.97,275.62 L363.26,277.18 L364.54,278.73 L365.83,280.28 L367.11,281.84 L368.37,283.42 L369.60,285.02 L370.78,286.64 L371.96,288.29 L373.10,289.96 L374.18,291.66 L375.17,293.39 L376.10,295.18 L376.97,297.00 L377.80,298.84 L378.60,300.69 L379.37,302.55 L380.12,304.43 L380.83,306.32 L381.48,308.22 L382.07,310.14 L382.63,312.08 L383.16,314.03 L383.64,315.99 L384.07,317.95 L384.47,319.93 L384.82,321.91 L385.16,323.90 L385.49,325.89 L385.81,327.88 L386.14,329.86 L386.47,331.85 L386.79,333.84 L387.10,335.83 L387.40,337.83 L387.67,339.82 L387.92,341.82 L388.16,343.82 L388.38,345.82 L388.60,347.83 L388.81,349.83 L389.02,351.84 L389.24,353.84 L389.46,355.84 L389.70,357.84 L389.96,359.84 L390.24,361.83 L390.54,363.82 L390.85,365.82 L391.17,367.81 L391.50,369.79 L391.84,371.78 L392.20,373.76 L392.57,375.75 L392.95,377.72 L393.34,379.70 L393.77,381.66 L394.21,383.63 L394.67,385.59 L395.13,387.55 L395.59,389.52 L396.04,391.48 L396.50,393.44 L396.97,395.40 L397.44,397.37 L397.90,399.33 L398.35,401.29 L398.79,403.26 L399.20,405.23 L399.60,407.20 L399.97,409.18 L400.32,411.16 L400.67,413.15 L401.01,415.13 L401.35,417.12 L401.69,419.11 L402.04,421.09 L402.41,423.07 L402.77,425.05 L403.14,427.03 L403.51,429.02 L403.88,431.00 L404.26,432.97 L404.65,434.95 L405.04,436.93 L405.44,438.90 L405.85,440.87 L406.27,442.85 L406.69,444.82 L407.13,446.78 L407.57,448.75 L408.02,450.71 L408.47,452.67 L408.94,454.63 L409.41,456.59 L409.89,458.55 L410.38,460.51 L410.87,462.46 L411.37,464.41 L411.88,466.36 L412.39,468.31 L412.91,470.26 L413.44,472.20 L413.97,474.14 L414.52,476.08 L415.07,478.02 L415.64,479.95 L416.21,481.88 L416.78,483.82 L417.36,485.75 L417.94,487.68 L418.52,489.61 L419.10,491.54 L419.68,493.47 L420.26,495.39 L420.84,497.32 L421.43,499.25 L422.02,501.18 L422.61,503.10 L423.20,505.03 L423.80,506.95 L424.40,508.88 L425.00,510.80" fill="none" stroke="#008000" stroke-width="1.25" stroke-linejoin="round" stroke-dasharray="9.3 3.4 2 3.25"/>
<path d="M603.10,510.80 L603.31,508.80 L603.53,506.80 L603.74,504.80 L603.95,502.80 L604.16,500.80 L604.37,498.80 L604.58,496.80 L604.79,494.80 L605.00,492.80 L605.20,490.79 L605.41,488.79 L605.62,486.79 L605.82,484.79 L606.02,482.79 L606.23,480.79 L606.43,478.79 L606.63,476.79 L606.83,474.78 L607.03,472.78 L607.22,470.78 L607.41,468.78 L607.60,466.78 L607.79,464.77 L607.98,462.77 L608.17,460.77 L608.35,458.76 L608.54,456.76 L608.73,454.76 L608.92,452.76 L609.11,450.75 L609.31,448.75 L609.50,446.75 L609.71,444.75 L609.91,442.75 L610.12,440.75 L610.33,438.75 L610.55,436.75 L610.77,434.75 L610.99,432.75 L611.21,430.75 L611.43,428.75 L611.66,426.75 L611.89,424.75 L612.13,422.75 L612.37,420.75 L612.61,418.76 L612.86,416.76 L613.12,414.77 L613.38,412.77 L613.64,410.78 L613.92,408.79 L614.20,406.80 L614.50,404.81 L614.80,402.82 L615.12,400.83 L615.45,398.85 L615.78,396.87 L616.12,394.88 L616.46,392.90 L616.80,390.92 L617.15,388.93 L617.49,386.95 L617.83,384.97 L618.17,382.98 L618.50,381.00 L618.83,379.02 L619.15,377.03 L619.47,375.04 L619.79,373.06 L620.12,371.07 L620.44,369.09 L620.76,367.10 L621.08,365.11 L621.41,363.13 L621.74,361.15 L622.08,359.16 L622.42,357.18 L622.76,355.20 L623.11,353.22 L623.47,351.24 L623.84,349.26 L624.21,347.29 L624.58,345.31 L624.96,343.33 L625.35,341.36 L625.74,339.38 L626.13,337.41 L626.53,335.44 L626.92,333.47 L627.32,331.50 L627.73,329.53 L628.13,327.55 L628.54,325.58 L628.94,323.61 L629.34,321.64 L629.74,319.67 L630.15,317.69 L630.56,315.72 L630.98,313.75 L631.41,311.79 L631.84,309.82 L632.29,307.86 L632.74,305.90 L633.21,303.95 L633.70,302.00 L634.21,300.06 L634.74,298.12 L635.29,296.19 L635.87,294.27 L636.45,292.34 L637.05,290.42 L637.66,288.50 L638.26,286.58 L638.87,284.66 L639.47,282.73 L640.06,280.81 L640.63,278.88 L641.20,276.95 L641.75,275.01 L642.30,273.07 L642.85,271.13 L643.40,269.19 L643.96,267.26 L644.53,265.33 L645.13,263.41 L645.74,261.50 L646.38,259.60 L647.05,257.71 L647.75,255.83 L648.46,253.94 L649.20,252.06 L649.96,250.19 L650.74,248.32 L651.54,246.46 L652.37,244.62 L653.22,242.79 L654.09,240.97 L654.99,239.18 L655.91,237.41 L656.86,235.66 L657.84,233.91 L658.86,232.16 L659.91,230.42 L661.01,228.69 L662.14,226.99 L663.30,225.32 L664.50,223.70 L665.74,222.12 L667.02,220.60 L668.33,219.14 L669.71,217.68 L671.15,216.20 L672.66,214.77 L674.23,213.40 L675.85,212.15 L677.51,211.04 L679.21,210.13 L680.98,209.36 L682.85,208.58 L684.79,207.86 L686.78,207.21 L688.78,206.69 L690.78,206.34 L692.73,206.20 L694.66,206.35 L696.61,206.80 L698.57,207.49 L700.49,208.34 L702.35,209.28 L704.11,210.23 L705.77,211.21 L707.37,212.37 L708.91,213.69 L710.40,215.11 L711.83,216.60 L713.22,218.11 L714.56,219.60 L715.86,221.13 L717.12,222.72 L718.32,224.35 L719.45,226.02 L720.49,227.72 L721.48,229.45 L722.42,231.22 L723.33,233.02 L724.20,234.85 L725.04,236.69 L725.87,238.53 L726.67,240.39 L727.47,242.23 L728.26,244.08 L729.04,245.93 L729.81,247.79 L730.56,249.66 L731.30,251.54 L732.02,253.42 L732.73,255.31 L733.41,257.20 L734.07,259.10 L734.71,261.01 L735.33,262.91 L735.92,264.83 L736.49,266.76 L737.03,268.70 L737.56,270.64 L738.08,272.58 L738.59,274.53 L739.10,276.48 L739.61,278.43 L740.13,280.37 L740.65,282.32 L741.17,284.26 L741.69,286.20 L742.21,288.15 L742.72,290.09 L743.22,292.04 L743.71,293.99 L744.19,295.95 L744.65,297.90 L745.11,299.86 L745.56,301.82 L746.01,303.78 L746.45,305.74 L746.88,307.71 L747.31,309.68 L747.73,311.64 L748.15,313.61 L748.56,315.58 L748.97,317.55 L749.36,319.52 L749.75,321.50 L750.13,323.47 L750.50,325.45 L750.87,327.43 L751.22,329.41 L751.58,331.39 L751.94,333.37 L752.30,335.35 L752.66,337.32 L753.03,339.30 L753.40,341.28 L753.79,343.25 L754.20,345.22 L754.63,347.19 L755.05,349.16 L755.44,351.13 L755.80,353.11 L756.12,355.09 L756.43,357.08 L756.72,359.06 L757.00,361.06 L757.27,363.05 L757.53,365.05 L757.78,367.04 L758.03,369.04 L758.28,371.04 L758.53,373.03 L758.79,375.03 L759.05,377.03 L759.32,379.02 L759.59,381.01 L759.87,383.00 L760.14,385.00 L760.42,386.99 L760.70,388.98 L760.98,390.97 L761.26,392.97 L761.53,394.96 L761.81,396.95 L762.09,398.94 L762.36,400.94 L762.63,402.93 L762.90,404.92 L763.17,406.92 L763.44,408.91 L763.70,410.90 L763.96,412.90 L764.22,414.89 L764.48,416.89 L764.74,418.88 L765.00,420.88 L765.26,422.87 L765.52,424.87 L765.78,426.86 L766.04,428.86 L766.30,430.85 L766.56,432.85 L766.82,434.84 L767.09,436.83 L767.36,438.83 L767.63,440.82 L767.91,442.81 L768.18,444.81 L768.45,446.80 L768.72,448.79 L768.98,450.79 L769.24,452.78 L769.50,454.78 L769.74,456.77 L769.98,458.77 L770.22,460.77 L770.45,462.77 L770.67,464.77 L770.89,466.77 L771.11,468.77 L771.32,470.77 L771.53,472.77 L771.74,474.77 L771.95,476.77 L772.16,478.77 L772.36,480.77 L772.57,482.77 L772.77,484.77 L772.97,486.77 L773.18,488.77 L773.38,490.78 L773.58,492.78 L773.77,494.78 L773.97,496.78 L774.16,498.78 L774.36,500.79 L774.55,502.79 L774.74,504.79 L774.93,506.79 L775.12,508.80 L775.30,510.80" fill="none" stroke="#008000" stroke-width="1.25" stroke-linejoin="round" stroke-dasharray="9.3 3.4 2 3.25"/>
<path d="M89.20,381.00 L90.50,379.47 L91.80,377.93 L93.09,376.39 L94.37,374.84 L95.65,373.28 L96.92,371.73 L98.19,370.17 L99.45,368.60 L100.70,367.03 L101.95,365.45 L103.20,363.88 L104.43,362.29 L105.65,360.69 L106.87,359.09 L108.08,357.48 L109.28,355.88 L110.50,354.27 L111.71,352.67 L112.94,351.08 L114.17,349.49 L115.40,347.90 L116.63,346.31 L117.87,344.72 L119.11,343.14 L120.35,341.56 L121.59,339.98 L122.83,338.40 L124.08,336.82 L125.32,335.24 L126.57,333.66 L127.82,332.08 L129.07,330.51 L130.32,328.94 L131.58,327.37 L132.84,325.80 L134.11,324.24 L135.38,322.68 L136.65,321.13 L137.93,319.58 L139.22,318.04 L140.52,316.51 L141.83,314.98 L143.14,313.46 L144.46,311.94 L145.79,310.43 L147.11,308.91 L148.44,307.40 L149.77,305.89 L151.09,304.38 L152.42,302.87 L153.74,301.35 L155.05,299.83 L156.36,298.30 L157.66,296.77 L158.95,295.23 L160.23,293.68 L161.52,292.13 L162.80,290.59 L164.10,289.05 L165.40,287.51 L166.69,285.97 L167.98,284.42 L169.27,282.88 L170.57,281.33 L171.87,279.80 L173.17,278.27 L174.49,276.75 L175.82,275.24 L177.16,273.75 L178.52,272.27 L179.89,270.81 L181.29,269.37 L182.70,267.94 L184.13,266.53 L185.58,265.13 L187.04,263.75 L188.52,262.37 L190.00,261.01 L191.49,259.66 L192.98,258.32 L194.49,256.99 L196.00,255.66 L197.53,254.35 L199.07,253.05 L200.62,251.77 L202.18,250.50 L203.76,249.26 L205.36,248.05 L206.99,246.88 L208.64,245.72 L210.30,244.59 L211.96,243.45 L213.61,242.30 L215.25,241.13 L216.85,239.93 L218.43,238.68 L219.99,237.41 L221.58,236.17 L223.19,234.97 L224.81,233.76 L226.45,232.60 L228.15,231.53 L229.89,230.55 L231.69,229.63 L233.52,228.79 L235.37,228.02 L237.26,227.31 L239.18,226.69 L241.11,226.16 L243.06,225.67 L245.02,225.21 L247.00,224.79 L248.99,224.43 L250.98,224.14 L252.97,223.94 L254.97,223.77 L256.98,223.61 L259.00,223.47 L261.01,223.37 L263.02,223.31 L265.01,223.33 L266.98,223.66 L268.95,224.16 L270.92,224.59 L272.90,224.98 L274.88,225.37 L276.85,225.78 L278.81,226.21 L280.76,226.68 L282.70,227.19 L284.62,227.77 L286.52,228.41 L288.42,229.09 L290.31,229.81 L292.18,230.54 L294.05,231.28 L295.91,232.04 L297.75,232.84 L299.59,233.66 L301.41,234.51 L303.24,235.36 L305.06,236.22 L306.88,237.06 L308.71,237.91 L310.53,238.76 L312.35,239.62 L314.16,240.49 L315.97,241.38 L317.76,242.28 L319.55,243.20 L321.33,244.13 L323.11,245.07 L324.88,246.03 L326.63,247.02 L328.38,248.02 L330.10,249.04 L331.81,250.09 L333.52,251.16 L335.21,252.26 L336.88,253.38 L338.54,254.51 L340.19,255.67 L341.82,256.85 L343.43,258.04 L345.04,259.25 L346.65,260.47 L348.24,261.72 L349.80,263.00 L351.34,264.30 L352.84,265.63 L354.29,266.99 L355.70,268.41 L357.07,269.87 L358.41,271.37 L359.72,272.91 L361.01,274.46 L362.30,276.02 L363.58,277.57 L364.86,279.12 L366.15,280.66 L367.42,282.22 L368.67,283.80 L369.88,285.40 L371.06,287.03 L372.23,288.68 L373.35,290.35 L374.41,292.06 L375.39,293.80 L376.30,295.59 L377.16,297.41 L377.98,299.26 L378.77,301.10 L379.54,302.96 L380.28,304.84 L380.97,306.73 L381.61,308.63 L382.20,310.55 L382.75,312.49 L383.26,314.43 L383.73,316.39 L384.16,318.35 L384.54,320.32 L384.89,322.30 L385.22,324.29 L385.55,326.27 L385.88,328.26 L386.21,330.24 L386.53,332.23 L386.85,334.21 L387.16,336.20 L387.45,338.19 L387.72,340.18 L387.97,342.17 L388.20,344.17 L388.42,346.17 L388.63,348.17 L388.84,350.17 L389.05,352.17 L389.27,354.17 L389.50,356.17 L389.74,358.16 L390.01,360.15 L390.29,362.14 L390.58,364.13 L390.89,366.12 L391.22,368.11 L391.55,370.09 L391.90,372.07 L392.25,374.05 L392.62,376.03 L393.00,378.00 L393.40,379.97 L393.83,381.93 L394.28,383.89 L394.73,385.85 L395.19,387.81 L395.65,389.77 L396.10,391.73 L396.56,393.69 L397.03,395.64 L397.49,397.60 L397.95,399.56 L398.40,401.52 L398.84,403.48 L399.25,405.45 L399.64,407.42 L400.01,409.39 L400.36,411.37 L400.71,413.35 L401.05,415.33 L401.38,417.32 L401.73,419.30 L402.08,421.28 L402.44,423.26 L402.81,425.23 L403.17,427.21 L403.54,429.19 L403.92,431.16 L404.30,433.14 L404.68,435.11 L405.07,437.08 L405.47,439.05 L405.88,441.02 L406.30,442.99 L406.72,444.95 L407.16,446.92 L407.60,448.88 L408.05,450.84 L408.50,452.80 L408.97,454.75 L409.44,456.71 L409.92,458.66 L410.40,460.61 L410.90,462.56 L411.40,464.51 L411.90,466.46 L412.41,468.40 L412.93,470.34 L413.46,472.28 L413.99,474.22 L414.54,476.15 L415.09,478.09 L415.66,480.02 L416.23,481.94 L416.80,483.87 L417.38,485.80 L417.95,487.72 L418.53,489.65 L419.11,491.58 L419.69,493.50 L420.27,495.43 L420.85,497.35 L421.44,499.27 L422.03,501.20 L422.62,503.12 L423.21,505.04 L423.80,506.96 L424.40,508.88 L425.00,510.80" fill="none" stroke="#008000" stroke-width="3" stroke-linejoin="round" stroke-dasharray="9.3 3.4 2 3.25" stroke-dashoffset="2.5"/>
<path d="M603.10,510.80 L603.31,508.80 L603.53,506.80 L603.74,504.80 L603.95,502.80 L604.16,500.80 L604.37,498.80 L604.58,496.80 L604.79,494.80 L605.00,492.80 L605.20,490.79 L605.41,488.79 L605.62,486.79 L605.82,484.79 L606.02,482.79 L606.23,480.79 L606.43,478.79 L606.63,476.79 L606.83,474.78 L607.03,472.78 L607.22,470.78 L607.41,468.78 L607.60,466.78 L607.79,464.77 L607.98,462.77 L608.17,460.77 L608.35,458.76 L608.54,456.76 L608.73,454.76 L608.92,452.76 L609.11,450.75 L609.31,448.75 L609.50,446.75 L609.71,444.75 L609.91,442.75 L610.12,440.75 L610.33,438.75 L610.55,436.75 L610.77,434.75 L610.99,432.75 L611.21,430.75 L611.43,428.75 L611.66,426.75 L611.89,424.75 L612.13,422.75 L612.37,420.75 L612.61,418.76 L612.86,416.76 L613.12,414.77 L613.38,412.77 L613.64,410.78 L613.92,408.79 L614.20,406.80 L614.50,404.81 L614.80,402.82 L615.12,400.83 L615.45,398.85 L615.78,396.87 L616.12,394.88 L616.46,392.90 L616.80,390.92 L617.15,388.93 L617.49,386.95 L617.83,384.97 L618.17,382.98 L618.50,381.00 L618.83,379.02 L619.15,377.03 L619.47,375.04 L619.79,373.06 L620.12,371.07 L620.44,369.09 L620.76,367.10 L621.08,365.11 L621.41,363.13 L621.74,361.15 L622.08,359.16 L622.42,357.18 L622.76,355.20 L623.11,353.22 L623.47,351.24 L623.84,349.26 L624.21,347.29 L624.58,345.31 L624.96,343.33 L625.35,341.36 L625.74,339.38 L626.13,337.41 L626.53,335.44 L626.92,333.47 L627.32,331.50 L627.73,329.53 L628.13,327.55 L628.54,325.58 L628.94,323.61 L629.34,321.64 L629.74,319.67 L630.15,317.69 L630.56,315.72 L630.98,313.75 L631.41,311.79 L631.84,309.82 L632.29,307.86 L632.74,305.90 L633.21,303.95 L633.70,302.00 L634.21,300.06 L634.74,298.12 L635.29,296.19 L635.87,294.27 L636.45,292.34 L637.05,290.42 L637.66,288.50 L638.26,286.58 L638.87,284.66 L639.47,282.73 L640.06,280.81 L640.63,278.88 L641.20,276.95 L641.75,275.01 L642.30,273.07 L642.85,271.13 L643.40,269.19 L643.96,267.26 L644.53,265.33 L645.13,263.41 L645.74,261.50 L646.38,259.60 L647.05,257.71 L647.75,255.83 L648.46,253.94 L649.20,252.06 L649.96,250.19 L650.74,248.32 L651.54,246.46 L652.37,244.62 L653.22,242.79 L654.09,240.97 L654.99,239.18 L655.91,237.41 L656.86,235.66 L657.84,233.91 L658.86,232.16 L659.91,230.42 L661.01,228.69 L662.14,226.99 L663.30,225.32 L664.50,223.70 L665.74,222.12 L667.02,220.60 L668.33,219.14 L669.71,217.68 L671.15,216.20 L672.66,214.77 L674.23,213.40 L675.85,212.15 L677.51,211.04 L679.21,210.13 L680.98,209.36 L682.85,208.58 L684.79,207.86 L686.78,207.21 L688.78,206.69 L690.78,206.34 L692.73,206.20 L694.66,206.35 L696.61,206.80 L698.57,207.49 L700.49,208.34 L702.35,209.28 L704.11,210.23 L705.77,211.21 L707.37,212.37 L708.91,213.69 L710.40,215.11 L711.83,216.60 L713.22,218.11 L714.56,219.60 L715.86,221.13 L717.12,222.72 L718.32,224.35 L719.45,226.02 L720.49,227.72 L721.48,229.45 L722.42,231.22 L723.33,233.02 L724.20,234.85 L725.04,236.69 L725.87,238.53 L726.67,240.39 L727.47,242.23 L728.26,244.08 L729.04,245.93 L729.81,247.79 L730.56,249.66 L731.30,251.54 L732.02,253.42 L732.73,255.31 L733.41,257.20 L734.07,259.10 L734.71,261.01 L735.33,262.91 L735.92,264.83 L736.49,266.76 L737.03,268.70 L737.56,270.64 L738.08,272.58 L738.59,274.53 L739.10,276.48 L739.61,278.43 L740.13,280.37 L740.65,282.32 L741.17,284.26 L741.69,286.20 L742.21,288.15 L742.72,290.09 L743.22,292.04 L743.71,293.99 L744.19,295.95 L744.65,297.90 L745.11,299.86 L745.56,301.82 L746.01,303.78 L746.45,305.74 L746.88,307.71 L747.31,309.68 L747.73,311.64 L748.15,313.61 L748.56,315.58 L748.97,317.55 L749.36,319.52 L749.75,321.50 L750.13,323.47 L750.50,325.45 L750.87,327.43 L751.22,329.41 L751.58,331.39 L751.94,333.37 L752.30,335.35 L752.66,337.32 L753.03,339.30 L753.40,341.28 L753.79,343.25 L754.20,345.22 L754.63,347.19 L755.05,349.16 L755.44,351.13 L755.80,353.11 L756.12,355.09 L756.43,357.08 L756.72,359.06 L757.00,361.06 L757.27,363.05 L757.53,365.05 L757.78,367.04 L758.03,369.04 L758.28,371.04 L758.53,373.03 L758.79,375.03 L759.05,377.03 L759.32,379.02 L759.59,381.01 L759.87,383.00 L760.14,385.00 L760.42,386.99 L760.70,388.98 L760.98,390.97 L761.26,392.97 L761.53,394.96 L761.81,396.95 L762.09,398.94 L762.36,400.94 L762.63,402.93 L762.90,404.92 L763.17,406.92 L763.44,408.91 L763.70,410.90 L763.96,412.90 L764.22,414.89 L764.48,416.89 L764.74,418.88 L765.00,420.88 L765.26,422.87 L765.52,424.87 L765.78,426.86 L766.04,428.86 L766.30,430.85 L766.56,432.85 L766.82,434.84 L767.09,436.83 L767.36,438.83 L767.63,440.82 L767.91,442.81 L768.18,444.81 L768.45,446.80 L768.72,448.79 L768.98,450.79 L769.24,452.78 L769.50,454.78 L769.74,456.77 L769.98,458.77 L770.22,460.77 L770.45,462.77 L770.67,464.77 L770.89,466.77 L771.11,468.77 L771.32,470.77 L771.53,472.77 L771.74,474.77 L771.95,476.77 L772.16,478.77 L772.36,480.77 L772.57,482.77 L772.77,484.77 L772.97,486.77 L773.18,488.77 L773.38,490.78 L773.58,492.78 L773.77,494.78 L773.97,496.78 L774.16,498.78 L774.36,500.79 L774.55,502.79 L774.74,504.79 L774.93,506.79 L775.12,508.80 L775.30,510.80" fill="none" stroke="#008000" stroke-width="3" stroke-linejoin="round" stroke-dasharray="9.3 3.4 2 3.25"/>
<path d="M89.20,381.00 L90.50,379.47 L91.80,377.93 L93.09,376.38 L94.37,374.84 L95.65,373.28 L96.92,371.72 L98.19,370.16 L99.45,368.59 L100.71,367.02 L101.96,365.45 L103.20,363.87 L104.44,362.28 L105.66,360.69 L106.87,359.08 L108.08,357.48 L109.29,355.87 L110.50,354.26 L111.72,352.66 L112.95,351.07 L114.18,349.48 L115.41,347.88 L116.64,346.30 L117.88,344.71 L119.12,343.12 L120.36,341.54 L121.60,339.96 L122.85,338.38 L124.09,336.80 L125.34,335.22 L126.58,333.64 L127.83,332.07 L129.08,330.49 L130.34,328.92 L131.60,327.35 L132.86,325.78 L134.12,324.22 L135.39,322.66 L136.67,321.11 L137.95,319.56 L139.24,318.02 L140.54,316.48 L141.85,314.95 L143.16,313.43 L144.48,311.91 L145.81,310.40 L147.14,308.89 L148.46,307.38 L149.79,305.87 L151.12,304.35 L152.44,302.84 L153.76,301.32 L155.08,299.80 L156.39,298.27 L157.69,296.74 L158.98,295.20 L160.26,293.65 L161.54,292.10 L162.83,290.55 L164.13,289.02 L165.42,287.48 L166.72,285.93 L168.01,284.38 L169.30,282.84 L170.60,281.30 L171.90,279.76 L173.21,278.23 L174.53,276.71 L175.86,275.20 L177.20,273.71 L178.56,272.23 L179.93,270.77 L181.33,269.33 L182.74,267.90 L184.18,266.49 L185.62,265.09 L187.09,263.71 L188.56,262.33 L190.04,260.97 L191.53,259.62 L193.03,258.28 L194.52,256.93 L196.03,255.58 L197.54,254.24 L199.08,252.93 L200.63,251.65 L202.20,250.40 L203.81,249.21 L205.44,248.05 L207.10,246.89 L208.78,245.75 L210.49,244.65 L212.23,243.61 L214.00,242.66 L215.80,241.83 L217.64,241.07 L219.54,240.35 L221.47,239.71 L223.43,239.21 L225.39,238.88 L227.39,238.61 L229.40,238.43 L231.41,238.42 L233.41,238.64 L235.41,239.03 L237.37,239.49 L239.28,240.05 L241.16,240.84 L242.97,241.77 L244.66,242.77 L246.26,243.94 L247.80,245.24 L249.29,246.64 L250.75,248.07 L252.19,249.49 L253.61,250.91 L254.98,252.37 L256.33,253.86 L257.66,255.37 L258.97,256.90 L260.29,258.43 L261.61,259.95 L262.95,261.45 L264.32,262.93 L265.70,264.39 L267.09,265.86 L268.51,267.29 L269.96,268.67 L271.48,269.98 L273.04,271.25 L274.63,272.49 L276.22,273.72 L277.82,274.94 L279.43,276.14 L281.06,277.33 L282.68,278.51 L284.31,279.70 L285.94,280.88 L287.59,282.04 L289.24,283.19 L290.88,284.36 L292.48,285.57 L294.04,286.83 L295.56,288.13 L297.06,289.46 L298.55,290.83 L300.01,292.21 L301.45,293.62 L302.88,295.05 L304.29,296.49 L305.69,297.94 L307.07,299.40 L308.45,300.86 L309.83,302.35 L311.17,303.86 L312.46,305.41 L313.68,306.99 L314.81,308.62 L315.90,310.30 L316.94,312.01 L317.95,313.76 L318.93,315.53 L319.90,317.31 L320.85,319.09 L321.80,320.87 L322.76,322.64 L323.73,324.41 L324.70,326.19 L325.62,327.98 L326.48,329.79 L327.25,331.63 L327.96,333.49 L328.64,335.38 L329.28,337.29 L329.89,339.21 L330.48,341.14 L331.05,343.08 L331.61,345.02 L332.15,346.96 L332.69,348.90 L333.22,350.84 L333.75,352.78 L334.26,354.73 L334.73,356.69 L335.15,358.65 L335.53,360.62 L335.89,362.60 L336.23,364.58 L336.55,366.57 L336.85,368.56 L337.15,370.55 L337.43,372.54 L337.71,374.54 L337.98,376.53 L338.24,378.53 L338.50,380.52 L338.75,382.52 L338.98,384.51 L339.21,386.51 L339.44,388.51 L339.66,390.51 L339.87,392.51 L340.08,394.51 L340.28,396.51 L340.48,398.51 L340.67,400.52 L340.87,402.52 L341.06,404.52 L341.25,406.52 L341.45,408.52 L341.64,410.53 L341.84,412.53 L342.04,414.53 L342.25,416.53 L342.46,418.53 L342.67,420.53 L342.89,422.53 L343.10,424.53 L343.32,426.53 L343.53,428.53 L343.74,430.53 L343.94,432.53 L344.15,434.53 L344.34,436.53 L344.53,438.54 L344.72,440.54 L344.92,442.54 L345.11,444.54 L345.30,446.55 L345.49,448.55 L345.67,450.55 L345.84,452.56 L345.99,454.56 L346.14,456.57 L346.26,458.58 L346.37,460.58 L346.46,462.59 L346.54,464.60 L346.61,466.61 L346.68,468.62 L346.75,470.63 L346.82,472.64 L346.88,474.65 L346.96,476.66 L347.04,478.67 L347.13,480.68 L347.22,482.69 L347.32,484.70 L347.42,486.71 L347.53,488.72 L347.64,490.73 L347.75,492.73 L347.86,494.74 L347.98,496.75 L348.10,498.76 L348.23,500.76 L348.36,502.77 L348.49,504.78 L348.62,506.79 L348.76,508.79 L348.90,510.80" fill="none" stroke="#0000ff" stroke-width="3" stroke-linejoin="round" stroke-dasharray="21.8 6.75" stroke-dashoffset="2.0"/>
</g>
<g stroke="#000" stroke-width="2" fill="none" stroke-linecap="butt" stroke-linejoin="round">
<rect x="88.55" y="27.20" width="702.75" height="483.60"/>
<path d="M205.68,510.80 v-11.30 M205.68,27.20 v11.30"/>
<path d="M322.80,510.80 v-11.30 M322.80,27.20 v11.30"/>
<path d="M439.93,510.80 v-11.30 M439.93,27.20 v11.30"/>
<path d="M557.05,510.80 v-11.30 M557.05,27.20 v11.30"/>
<path d="M674.17,510.80 v-11.30 M674.17,27.20 v11.30"/>
<path d="M88.55,480.57 h11.30 M791.30,480.57 h-11.30"/>
<path d="M88.55,420.12 h11.30 M791.30,420.12 h-11.30"/>
<path d="M88.55,359.68 h11.30 M791.30,359.68 h-11.30"/>
<path d="M88.55,299.23 h11.30 M791.30,299.23 h-11.30"/>
<path d="M88.55,238.78 h11.30 M791.30,238.78 h-11.30"/>
<path d="M88.55,178.32 h11.30 M791.30,178.32 h-11.30"/>
<path d="M88.55,117.88 h11.30 M791.30,117.88 h-11.30"/>
<path d="M88.55,57.42 h11.30 M791.30,57.42 h-11.30"/>
</g>
<text transform="translate(84.84,545.40) scale(1.0163,1.1000)" font-size="24.80">0</text>
<text transform="translate(201.38,545.40) scale(1.0826,1.1000)" font-size="24.80">2</text>
<text transform="translate(319.37,545.40) scale(0.9764,1.1000)" font-size="24.80">4</text>
<text transform="translate(435.66,545.40) scale(1.0595,1.1000)" font-size="24.80">6</text>
<text transform="translate(553.07,545.40) scale(1.0375,1.1000)" font-size="24.80">8</text>
<path transform="translate(672.90,545.30) scale(1.0272)" d="M0,0 V-18.4 H-1.9 C-2.2,-16.1 -3.4,-14.75 -6.8,-14.6 V-12.7 H-2.5 V0 Z" fill="#000"/>
<text transform="translate(678.05,545.40) scale(1.0122,1.1000)" font-size="24.80">0</text>
<path transform="translate(789.90,545.30) scale(1.0272)" d="M0,0 V-18.4 H-1.9 C-2.2,-16.1 -3.4,-14.75 -6.8,-14.6 V-12.7 H-2.5 V0 Z" fill="#000"/>
<text transform="translate(794.57,545.30) scale(1.0694,1.1000)" font-size="24.80">2</text>
<rect x="52.5" y="481.62" width="6.2" height="2.15" fill="#000"/>
<text transform="translate(58.89,489.52) scale(1.0553,1.1000)" font-size="24.80">6</text>
<rect x="52.5" y="421.18" width="6.2" height="2.15" fill="#000"/>
<text transform="translate(59.18,429.07) scale(1.0333,1.1000)" font-size="24.80">5</text>
<rect x="52.5" y="360.73" width="6.2" height="2.15" fill="#000"/>
<text transform="translate(59.72,368.62) scale(0.9725,1.1000)" font-size="24.80">4</text>
<rect x="52.5" y="300.28" width="6.2" height="2.15" fill="#000"/>
<text transform="translate(59.45,308.18) scale(1.0122,1.1000)" font-size="24.80">3</text>
<rect x="52.5" y="239.82" width="6.2" height="2.15" fill="#000"/>
<text transform="translate(58.86,247.72) scale(1.0782,1.1000)" font-size="24.80">2</text>
<rect x="52.5" y="179.37" width="6.2" height="2.15" fill="#000"/>
<path transform="translate(68.60,187.17) scale(1.0272)" d="M0,0 V-18.4 H-1.9 C-2.2,-16.1 -3.4,-14.75 -6.8,-14.6 V-12.7 H-2.5 V0 Z" fill="#000"/>
<text transform="translate(59.45,126.83) scale(1.0122,1.1000)" font-size="24.80">0</text>
<path transform="translate(68.60,66.28) scale(1.0272)" d="M0,0 V-18.4 H-1.9 C-2.2,-16.1 -3.4,-14.75 -6.8,-14.6 V-12.7 H-2.5 V0 Z" fill="#000"/>
<text transform="translate(371.47,576.60) scale(0.9631,1.0400)" font-size="24.80">log</text>
<text transform="translate(405.46,576.60) scale(0.7019,1.0200)" font-size="24.80">(</text>
<text transform="translate(413.31,576.60) scale(0.9531,1.0700)" font-size="24.80">E</text>
<text transform="translate(436.66,576.60) scale(0.9476,1.0200)" font-size="24.80">[</text>
<text transform="translate(443.22,576.60) scale(1.0297,1.0700)" font-size="24.80">GeV</text>
<text transform="translate(494.00,576.60) scale(0.9025,1.0200)" font-size="24.80">]</text>
<text transform="translate(502.00,576.60) scale(0.6768,1.0200)" font-size="24.80">)</text>
<g transform="translate(36.05,0) rotate(-90)">
<text transform="translate(-382.40,0.00) scale(0.8738,1.0580)" font-size="24.80">log</text>
<text transform="translate(-348.22,0.00) scale(0.8214,1.0000)" font-size="24.80">(</text>
<text transform="translate(-340.05,0.00) scale(0.9311,1.0580)" font-size="24.80">E</text>
<text transform="translate(-324.81,-11.80) scale(1.1176,1.1481)" font-size="19.84">2</text>
<g fill="none" stroke="#000"><ellipse cx="-299.45" cy="-6.45" rx="4.6" ry="5.5" stroke-width="2.0"/><path d="M-299.45,-17.3 V5.3" stroke-width="1.3"/></g>
<text transform="translate(-286.41,0.00) scale(0.9274,1.0000)" font-size="24.80">[</text>
<text transform="translate(-279.23,0.00) scale(0.9926,1.0580)" font-size="24.80">GeV</text>
<text transform="translate(-223.20,0.00) scale(1.0130,1.0580)" font-size="24.80">cm</text>
<rect x="-188.5" y="-19.2" width="4.9" height="1.9" fill="#000"/>
<text transform="translate(-182.98,-13.40) scale(1.0848,1.0650)" font-size="19.84">2</text>
<text transform="translate(-170.90,0.00) scale(0.8449,1.0000)" font-size="24.80">]</text>
<text transform="translate(-163.20,0.00) scale(0.7056,1.0000)" font-size="24.80">)</text>
</g>
<text transform="translate(589.63,59.50) scale(0.9948,1.0900)" font-size="24.80">Primary</text>
<path d="M690.00,50.85 H761.70" stroke="#000000" stroke-width="3" fill="none" stroke-dasharray="4 3.2 4 6.75"/>
<text transform="translate(316.90,84.42) scale(1.0096,1.0700)" font-size="24.80">Structured</text>
<text transform="translate(440.13,84.42) scale(0.9932,1.0700)" font-size="24.80">Region</text>
<text transform="translate(525.68,84.42) scale(0.8214,1.0200)" font-size="24.80">(</text>
<text transform="translate(533.24,84.42) scale(1.0379,1.0700)" font-size="24.80">B</text>
<text transform="translate(550.00,91.32) scale(1.1220,1.0700)" font-size="13.40">EG</text>
<path d="M571.9,75.72 H584.4 M571.9,80.42 H584.4" stroke="#000" stroke-width="1.9" fill="none"/>
<path transform="translate(594.90,84.32) scale(1.0272)" d="M0,0 V-18.4 H-1.9 C-2.2,-16.1 -3.4,-14.75 -6.8,-14.6 V-12.7 H-2.5 V0 Z" fill="#000"/>
<text transform="translate(599.91,84.42) scale(0.9299,1.1000)" font-size="24.80">0</text>
<path transform="translate(618.70,72.02) scale(0.5489)" d="M0,0 V-18.4 H-1.9 C-2.2,-16.1 -3.4,-14.75 -6.8,-14.6 V-12.7 H-2.5 V0 Z" fill="#000"/>
<text transform="translate(621.29,72.02) scale(1.0859,1.0700)" font-size="13.40">.5</text>
<text transform="translate(633.91,84.42) scale(1.0029,1.0700)" font-size="24.80">nG</text>
<text transform="translate(668.30,84.42) scale(0.7776,1.0200)" font-size="24.80">)</text>
<path d="M690.00,75.77 H761.70" stroke="#ff4500" stroke-width="3" fill="none" stroke-dasharray="3 2.36"/>
<text transform="translate(409.90,109.34) scale(1.0035,1.0700)" font-size="24.80">Observed</text>
<text transform="translate(525.68,109.34) scale(0.8214,1.0200)" font-size="24.80">(</text>
<text transform="translate(533.24,109.34) scale(1.0379,1.0700)" font-size="24.80">B</text>
<text transform="translate(550.00,116.24) scale(1.1220,1.0700)" font-size="13.40">EG</text>
<path d="M571.9,100.64 H584.4 M571.9,105.34 H584.4" stroke="#000" stroke-width="1.9" fill="none"/>
<path transform="translate(594.90,109.24) scale(1.0272)" d="M0,0 V-18.4 H-1.9 C-2.2,-16.1 -3.4,-14.75 -6.8,-14.6 V-12.7 H-2.5 V0 Z" fill="#000"/>
<text transform="translate(599.91,109.34) scale(0.9299,1.1000)" font-size="24.80">0</text>
<path transform="translate(618.70,96.94) scale(0.5489)" d="M0,0 V-18.4 H-1.9 C-2.2,-16.1 -3.4,-14.75 -6.8,-14.6 V-12.7 H-2.5 V0 Z" fill="#000"/>
<text transform="translate(621.29,96.94) scale(1.0859,1.0700)" font-size="13.40">.5</text>
<text transform="translate(633.91,109.34) scale(1.0029,1.0700)" font-size="24.80">nG</text>
<text transform="translate(668.30,109.34) scale(0.7776,1.0200)" font-size="24.80">)</text>
<path d="M690.00,100.69 H761.70" stroke="#ff0000" stroke-width="3" fill="none"/>
<text transform="translate(316.90,134.26) scale(1.0096,1.0700)" font-size="24.80">Structured</text>
<text transform="translate(440.13,134.26) scale(0.9932,1.0700)" font-size="24.80">Region</text>
<text transform="translate(525.68,134.26) scale(0.8214,1.0200)" font-size="24.80">(</text>
<text transform="translate(533.24,134.26) scale(1.0379,1.0700)" font-size="24.80">B</text>
<text transform="translate(550.00,141.16) scale(1.1220,1.0700)" font-size="13.40">EG</text>
<path d="M571.9,125.56 H584.4 M571.9,130.26 H584.4" stroke="#000" stroke-width="1.9" fill="none"/>
<path transform="translate(594.90,134.16) scale(1.0272)" d="M0,0 V-18.4 H-1.9 C-2.2,-16.1 -3.4,-14.75 -6.8,-14.6 V-12.7 H-2.5 V0 Z" fill="#000"/>
<text transform="translate(599.91,134.26) scale(0.9299,1.1000)" font-size="24.80">0</text>
<text transform="translate(613.48,121.86) scale(1.0702,1.0700)" font-size="13.40">2.5</text>
<text transform="translate(633.91,134.26) scale(1.0029,1.0700)" font-size="24.80">nG</text>
<text transform="translate(668.30,134.26) scale(0.7776,1.0200)" font-size="24.80">)</text>
<path d="M690.00,125.61 H761.70" stroke="#008000" stroke-width="3" fill="none" stroke-dasharray="9.3 3.4 2 3.25"/>
<text transform="translate(409.90,159.18) scale(1.0035,1.0700)" font-size="24.80">Observed</text>
<text transform="translate(525.68,159.18) scale(0.8214,1.0200)" font-size="24.80">(</text>
<text transform="translate(533.24,159.18) scale(1.0379,1.0700)" font-size="24.80">B</text>
<text transform="translate(550.00,166.08) scale(1.1220,1.0700)" font-size="13.40">EG</text>
<path d="M571.9,150.48 H584.4 M571.9,155.18 H584.4" stroke="#000" stroke-width="1.9" fill="none"/>
<path transform="translate(594.90,159.08) scale(1.0272)" d="M0,0 V-18.4 H-1.9 C-2.2,-16.1 -3.4,-14.75 -6.8,-14.6 V-12.7 H-2.5 V0 Z" fill="#000"/>
<text transform="translate(599.91,159.18) scale(0.9299,1.1000)" font-size="24.80">0</text>
<text transform="translate(613.48,146.78) scale(1.0702,1.0700)" font-size="13.40">2.5</text>
<text transform="translate(633.91,159.18) scale(1.0029,1.0700)" font-size="24.80">nG</text>
<text transform="translate(668.30,159.18) scale(0.7776,1.0200)" font-size="24.80">)</text>
<path d="M690.00,150.53 H761.70" stroke="#0000ff" stroke-width="3" fill="none" stroke-dasharray="21.8 6.75"/>
</svg>
</body></html>
